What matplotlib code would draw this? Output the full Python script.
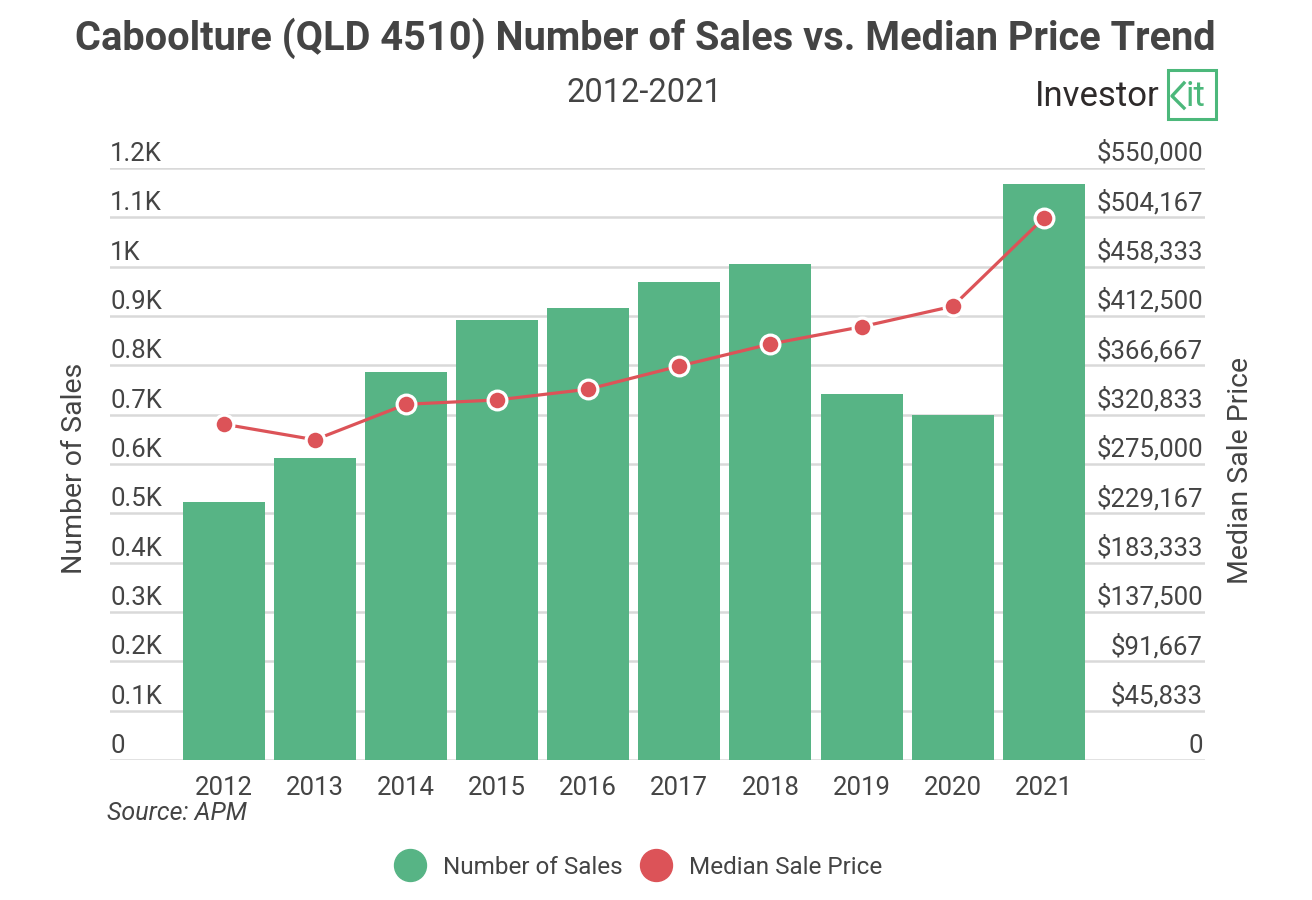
import matplotlib
matplotlib.use("Agg")
import matplotlib.pyplot as plt
import matplotlib.transforms as mtransforms
from matplotlib.lines import Line2D
from matplotlib.patches import Rectangle

years = ['2012', '2013', '2014', '2015', '2016', '2017', '2018', '2019', '2020', '2021']
sales = [523, 612, 787, 892, 916, 969, 1005, 742, 699, 1168]
median_price = [312000, 297500, 330500, 334500, 344500, 366000, 386500, 402500, 421500, 503500]

left_ticks = [0, 100, 200, 300, 400, 500, 600, 700, 800, 900, 1000, 1100, 1200]
left_labels = ['0', '0.1K', '0.2K', '0.3K', '0.4K', '0.5K', '0.6K', '0.7K', '0.8K', '0.9K', '1K', '1.1K', '1.2K']
right_ticks = [0, 45833, 91667, 137500, 183333, 229167, 275000, 320833, 366667, 412500, 458333, 504167, 550000]
right_labels = ['0', '$45,833', '$91,667', '$137,500', '$183,333', '$229,167', '$275,000',
                '$320,833', '$366,667', '$412,500', '$458,333', '$504,167', '$550,000']

GREEN = '#57B485'
RED = '#DC5358'
TXT = '#444444'
GRID = '#D9D9D9'
LOGO = '#4CB87B'

plt.rcParams['font.family'] = ['Roboto', 'DejaVu Sans']

W, H = 1312, 900
fig = plt.figure(figsize=(W / 100, H / 100), dpi=100)
ax = fig.add_axes([110 / W, 140 / H, 1095 / W, 592 / H])

x = list(range(len(years)))
ax.bar(x, sales, width=0.9, color=GREEN, zorder=2)
ax.set_xlim(-1.25, 10.77)
ax.set_ylim(0, 1200)
for t in left_ticks:
    ax.axhline(t, color=GRID, lw=1.8, zorder=1)
for s in ax.spines.values():
    s.set_visible(False)
ax.set_yticks([])
ax.set_xticks(x)
ax.set_xticklabels(years, fontsize=18.5, color=TXT)
ax.tick_params(axis='x', length=0, pad=11.5)

# tick labels sit just above their gridlines
off = mtransforms.ScaledTranslation(0, 2 / 100, fig.dpi_scale_trans)
for t, lab in zip(left_ticks, left_labels):
    ax.text(0, t, lab, transform=ax.get_yaxis_transform() + off,
            ha='left', va='bottom', fontsize=18.5, color=TXT)

ax2 = ax.twinx()
ax2.set_ylim(0, 550000)
ax2.set_yticks([])
for s in ax2.spines.values():
    s.set_visible(False)
ax2.plot(x, median_price, color=RED, lw=2.3, marker='o', ms=13.5,
         mfc=RED, mec='white', mew=2.3, zorder=3)
for t, lab in zip(right_ticks, right_labels):
    ax2.text(0.998, t, lab, transform=ax2.get_yaxis_transform() + off,
             ha='right', va='bottom', fontsize=18.5, color=TXT)

fig.text(75 / W, 1 - 468 / H, 'Number of Sales', rotation=90, ha='center', va='center',
         fontsize=20.5, color=TXT)
fig.text(1240 / W, 1 - 470 / H, 'Median Sale Price', rotation=90, ha='center', va='center',
         fontsize=20.5, color=TXT)

fig.text(645 / W, 1 - 38 / H, 'Caboolture (QLD 4510) Number of Sales vs. Median Price Trend',
         ha='center', va='center', fontsize=28.6, fontweight='bold', color=TXT)
fig.text(644 / W, 1 - 93 / H, '2012-2021', ha='center', va='center', fontsize=23.5, color=TXT)
fig.text(107 / W, 1 - 801 / H, 'Source: APM', ha='left', va='top', fontsize=18,
         style='italic', color=TXT)

# logo
fig.text(1160 / W, 1 - 96 / H, 'Investor', ha='right', va='center', fontsize=25,
         color='#2E2A2A')
fig.patches.append(Rectangle((1168 / W, 1 - 119 / H), 48 / W, 49 / H, transform=fig.transFigure,
                             fill=False, ec=LOGO, lw=2.2))
fig.lines.append(Line2D([1184 / W, 1172 / W, 1184 / W], [1 - 83 / H, 1 - 96 / H, 1 - 108 / H],
                        transform=fig.transFigure, color=LOGO, lw=2.4))
fig.text(1186 / W, 1 - 96 / H, 'it', ha='left', va='center', fontsize=25, color=LOGO)

handles = [Line2D([0], [0], marker='o', ls='none', ms=23, mfc=GREEN, mec=GREEN),
           Line2D([0], [0], marker='o', ls='none', ms=23, mfc=RED, mec=RED)]
fig.legend(handles, ['Number of Sales', 'Median Sale Price'], loc='center',
           bbox_to_anchor=(634 / W, 1 - 867 / H), ncol=2, frameon=False,
           fontsize=17.5, labelcolor=TXT, handletextpad=0.35, columnspacing=0.4)

fig.savefig('out.png', dpi=100)
